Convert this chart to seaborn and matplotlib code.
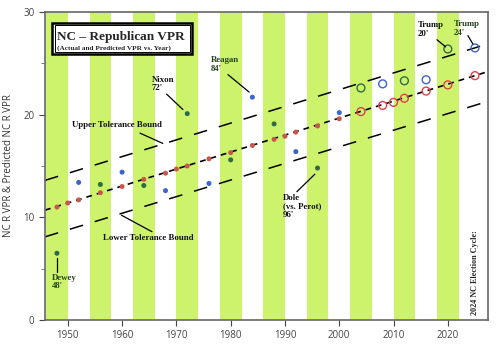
import numpy as np
import pandas as pd
import seaborn as sns
import matplotlib.pyplot as plt
from matplotlib.patches import Rectangle

# predicted VPR (on the trend line)
pred_years = [1948, 1950, 1952, 1956, 1960, 1964, 1968, 1970, 1972, 1976, 1980, 1984,
              1988, 1990, 1992, 1996, 2000, 2004, 2008, 2010, 2012, 2016, 2020, 2025]
pred_vals = [11.0, 11.4, 11.7, 12.4, 13.0, 13.7, 14.3, 14.7, 15.0, 15.7, 16.3, 17.0,
             17.6, 17.9, 18.3, 18.9, 19.6, 20.3, 20.9, 21.2, 21.6, 22.3, 22.9, 23.8]

# actual VPR
actual_years = [1948, 1952, 1956, 1960, 1964, 1968, 1972, 1976, 1980, 1984,
                1988, 1992, 1996, 2000, 2004, 2008, 2012, 2016, 2020, 2025]
actual_vals = [6.5, 13.4, 13.2, 14.4, 13.1, 12.6, 20.1, 13.3, 15.6, 21.7,
               19.1, 16.4, 14.8, 20.2, 22.6, 23.0, 23.3, 23.4, 26.4, 26.5]
actual_group = ["g", "b", "g", "b", "g", "b", "g", "b", "g", "b",
                "g", "b", "g", "b", "g", "b", "g", "b", "g", "b"]

# regression line and tolerance bounds (end points)
line_years = [1945.8, 2027.4]
trend_vals = [10.7, 24.2]
upper_vals = [13.6, 26.9]
lower_vals = [8.1, 21.3]

band_starts = [1946, 1954, 1962, 1970, 1978, 1986, 1994, 2002, 2010, 2018]

sns.set_style("ticks")
plt.rcParams["font.family"] = ["Open Sans", "DejaVu Sans"]

fig = plt.figure(figsize=(5, 3.55), dpi=100)
ax = fig.add_axes([0.09, 0.0986, 0.886, 0.8676])

for b in band_starts:
    ax.axvspan(b, b + 4, color="#cdf36c", lw=0, zorder=0)

sns.lineplot(x=line_years, y=trend_vals, ax=ax, color="black", lw=1.2,
             linestyle=(0, (3.5, 3)), zorder=2)
sns.lineplot(x=line_years, y=upper_vals, ax=ax, color="black", lw=1.1,
             linestyle=(0, (9, 8)), zorder=2)
sns.lineplot(x=line_years, y=lower_vals, ax=ax, color="black", lw=1.1,
             linestyle=(0, (9, 8)), zorder=2)

pred = pd.DataFrame({"year": pred_years, "vpr": pred_vals})
act = pd.DataFrame({"year": actual_years, "vpr": actual_vals, "grp": actual_group})

old = pred[pred.year <= 2000]
new = pred[pred.year > 2000]
sns.scatterplot(data=old, x="year", y="vpr", ax=ax, color="#c9564c", s=13,
                edgecolor="none", zorder=4)
sns.scatterplot(data=new, x="year", y="vpr", ax=ax, facecolor="none",
                edgecolor="#e0404c", s=32, linewidth=1.0, zorder=4)

colors = {"g": "#2f6b45", "b": "#3d63cc"}
for g, c in colors.items():
    sub = act[act.grp == g]
    sns.scatterplot(data=sub[sub.year <= 2000], x="year", y="vpr", ax=ax,
                    color=c, s=13, edgecolor="none", zorder=4)
    sns.scatterplot(data=sub[sub.year > 2000], x="year", y="vpr", ax=ax,
                    facecolor="none", edgecolor=c, s=32, linewidth=1.0, zorder=4)

ax.set_xlim(1945.8, 2027.4)
ax.set_ylim(0, 30)
ax.set_xticks(range(1950, 2030, 10))
ax.set_yticks([0, 10, 20, 30])
ax.set_yticks([5, 15, 25], minor=True)
ax.tick_params(axis="both", labelsize=7, colors="#444444", length=4, width=0.8)
ax.tick_params(axis="y", which="minor", length=3, color="#666666")
ax.set_xlabel("")
ax.set_ylabel("NC R VPR & Predicted NC R VPR", fontsize=7, color="#333333", labelpad=7)
for s in ax.spines.values():
    s.set_color("#666666")
    s.set_linewidth(1.2)

# title box
ax.add_patch(Rectangle((0.016, 0.864), 0.316, 0.100, transform=ax.transAxes,
                       facecolor="white", edgecolor="black", lw=1.8, zorder=6))
ax.add_patch(Rectangle((0.0215, 0.8715), 0.305, 0.085, transform=ax.transAxes,
                       facecolor="none", edgecolor="black", lw=0.7, zorder=7))
serif = ["Liberation Serif", "DejaVu Serif"]
ax.text(0.027, 0.909, "NC \u2013 Republican VPR", transform=ax.transAxes,
        fontsize=9.5, fontweight="bold", family=serif, va="baseline", zorder=8)
ax.text(0.027, 0.879, "(Actual and Predicted VPR vs. Year)", transform=ax.transAxes,
        fontsize=5.2, fontweight="bold", family=serif, va="baseline", zorder=8)

# annotations
dark = "#111111"
dkgreen = "#24461c"
notes = [
    ("Nixon\n72'", (1965.5, 23.8), (1968.2, 22.0), (1971.2, 20.5), dark),
    ("Reagan\n84'", (1976.4, 25.7), (1979.5, 23.9), (1983.4, 22.2), dkgreen),
    ("Upper Tolerance Bound", (1950.7, 19.0), (1963.3, 18.2), (1967.5, 17.2), dark),
    ("Lower Tolerance Bound", (1956.4, 8.0), (1959.9, 10.2), (1965.5, 8.6), dark),
    ("Dewey\n48'", (1947.0, 4.5), (1948.0, 6.0), (1948.0, 4.7), dkgreen),
    ("Dole\n(vs. Perot)\n96'", (1989.6, 12.3), (1992.2, 12.5), (1995.5, 14.2), dark),
    ("Trump\n20'", (2014.5, 29.1), (2018.0, 27.3), (2019.6, 26.6), dark),
    ("Trump\n24'", (2021.1, 29.2), (2023.7, 27.7), (2024.6, 26.9), dkgreen),
]
for txt, tpos, p0, p1, col in notes:
    va = "center" if "Bound" in txt else "top"
    ax.text(tpos[0], tpos[1], txt, fontsize=6.3, fontweight="bold", family=serif,
            color=col, va=va, ha="left", linespacing=1.1, zorder=8)
    ax.plot([p0[0], p1[0]], [p0[1], p1[1]], color="black", lw=0.9, zorder=5)

ax.text(2025.0, 0.5, "2024 NC Election Cycle:", rotation=90, fontsize=5.9,
        fontweight="bold", family=serif, va="bottom", ha="center", zorder=8)

fig.savefig("out.png", dpi=100)
